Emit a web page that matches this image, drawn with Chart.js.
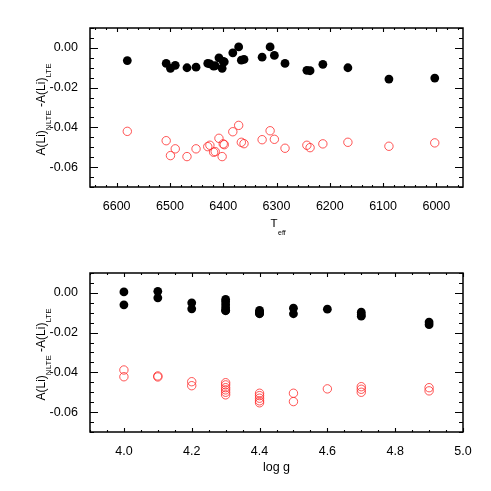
<!DOCTYPE html>
<html>
<head>
<meta charset="utf-8">
<script src="https://cdn.jsdelivr.net/npm/chart.js@4.4.1/dist/chart.umd.min.js"></script>
<style>
  body { margin: 0; background: #fff; }
  .panel { position: absolute; left: 0; width: 491px; height: 245px; }
  canvas { display: block; }
</style>
</head>
<body>
<div class="panel" style="top:0"><canvas id="teffChart" width="491" height="245"></canvas></div>
<div class="panel" style="top:245px"><canvas id="loggChart" width="491" height="245"></canvas></div>
<script>
// top panel: one entry per star
const teff = [6580, 6507, 6499, 6490, 6468, 6451, 6429, 6425, 6418, 6415, 6408, 6402, 6400, 6398,
              6382, 6371, 6366, 6361, 6327, 6312, 6304, 6284, 6243, 6237, 6213, 6166, 6089, 6003];
const teffBlack = [-0.0064, -0.0078, -0.0103, -0.0088, -0.0100, -0.0097, -0.0078, -0.0080, -0.0092, -0.0090,
                   -0.0050, -0.0103, -0.0068, -0.0070, -0.0025, 0.0005, -0.0062, -0.0058, -0.0047, 0.0005,
                   -0.0038, -0.0078, -0.0113, -0.0115, -0.0083, -0.0100, -0.0157, -0.0152];
const teffRed = [-0.0420, -0.0467, -0.0542, -0.0508, -0.0547, -0.0508, -0.0497, -0.0490, -0.0525, -0.0522,
                 -0.0455, -0.0547, -0.0483, -0.0487, -0.0422, -0.0390, -0.0475, -0.0482, -0.0462, -0.0417,
                 -0.0460, -0.0505, -0.0490, -0.0502, -0.0483, -0.0475, -0.0495, -0.0478];

// bottom panel
const logg = [4.0, 4.0, 4.1, 4.1, 4.2, 4.2, 4.3, 4.3, 4.3, 4.3, 4.3, 4.3, 4.4, 4.4, 4.4, 4.4, 4.4,
              4.5, 4.5, 4.6, 4.7, 4.7, 4.7, 4.9, 4.9];
const loggBlack = [0.0005, -0.0060, 0.0008, -0.0025, -0.0050, -0.0080, -0.0033, -0.0045, -0.0060, -0.0075,
                   -0.0090, -0.0088, -0.0088, -0.0105, -0.0095, -0.0100, -0.0103, -0.0077, -0.0105, -0.0082,
                   -0.0097, -0.0117, -0.0110, -0.0147, -0.0160];
const loggRed = [-0.0388, -0.0422, -0.0418, -0.0423, -0.0447, -0.0467, -0.0452, -0.0463, -0.0477, -0.0488,
                 -0.0500, -0.0513, -0.0505, -0.0517, -0.0530, -0.0543, -0.0553, -0.0505, -0.0547, -0.0483,
                 -0.0472, -0.0485, -0.0500, -0.0477, -0.0493];

const yTicks = [0.00, -0.02, -0.04, -0.06];
const teffTicks = [6600, 6500, 6400, 6300, 6200, 6100, 6000];
const loggTicks = [4.0, 4.2, 4.4, 4.6, 4.8, 5.0];

const FONT = '"Liberation Sans", Arial, Helvetica, sans-serif';

// IDL-like frame with inward ticks on all four sides
const frameTicks = {
  id: 'frameTicks',
  afterDraw(chart, args, opts) {
    const { ctx, chartArea: a, scales } = chart;
    const L = Math.round(a.left), T = Math.round(a.top);
    const R = Math.round(a.right), B = Math.round(a.bottom);
    ctx.save();
    ctx.strokeStyle = '#000';
    ctx.lineWidth = 1.5;
    ctx.strokeRect(L, T, R - L, B - T);

    ctx.lineWidth = 1.1;
    ctx.beginPath();
    const xs = scales.x, ys = scales.y;
    let i0 = Math.ceil(xs.min / opts.xMinor - 1e-6);
    for (let i = i0; i * opts.xMinor <= xs.max + 1e-9; i++) {
      const v = i * opts.xMinor;
      const major = Math.abs(v / opts.xMajor - Math.round(v / opts.xMajor)) < 1e-6;
      const len = major ? 4 : 2;
      const px = Math.round(xs.getPixelForValue(v)) + 0.5;
      ctx.moveTo(px, B); ctx.lineTo(px, B - len);
      ctx.moveTo(px, T); ctx.lineTo(px, T + len);
    }
    i0 = Math.ceil(ys.min / opts.yMinor - 1e-6);
    for (let i = i0; i * opts.yMinor <= ys.max + 1e-9; i++) {
      const v = i * opts.yMinor;
      const major = Math.abs(v / opts.yMajor - Math.round(v / opts.yMajor)) < 1e-6;
      const len = major ? 8 : 4;
      const py = Math.round(ys.getPixelForValue(v)) + 0.5;
      ctx.moveTo(L, py); ctx.lineTo(L + len, py);
      ctx.moveTo(R, py); ctx.lineTo(R - len, py);
    }
    ctx.stroke();

    // y title with subscripts, rotated
    ctx.fillStyle = '#000';
    ctx.textBaseline = 'alphabetic';
    ctx.textAlign = 'left';
    const parts = [['A(Li)', 12, 0], ['NLTE', 8, 6], [' -A(Li)', 12, 0], ['LTE', 8, 6]];
    let total = 0;
    parts.forEach(p => { ctx.font = p[1] + 'px ' + FONT; total += ctx.measureText(p[0]).width; });
    ctx.translate(45, (a.top + a.bottom) / 2 + 2);
    ctx.rotate(-Math.PI / 2);
    let x = -total / 2;
    parts.forEach(p => {
      ctx.font = p[1] + 'px ' + FONT;
      ctx.fillText(p[0], x, p[2]);
      x += ctx.measureText(p[0]).width;
    });
    ctx.setTransform(1, 0, 0, 1, 0, 0);

    // x title
    const cx = (a.left + a.right) / 2;
    if (opts.xTitle === 'teff') {
      ctx.font = '11.5px ' + FONT;
      ctx.fillText('T', cx - 6, 227);
      ctx.font = '7px ' + FONT;
      ctx.fillText('eff', cx + 1.5, 235);
    } else {
      ctx.font = '12.5px ' + FONT;
      ctx.textAlign = 'center';
      ctx.fillText('log g', cx, 225.5);
    }
    ctx.restore();
  }
};

function makePanel(id, xs, black, red, xTicks, cfg) {
  return new Chart(document.getElementById(id), {
    type: 'scatter',
    data: {
      datasets: [
        {
          data: xs.map((v, i) => ({ x: v, y: red[i] })),
          backgroundColor: 'rgba(0,0,0,0)',
          borderColor: '#ff2a2a',
          borderWidth: 0.8,
          pointRadius: 4.2
        },
        {
          data: xs.map((v, i) => ({ x: v, y: black[i] })),
          backgroundColor: '#000',
          borderColor: '#000',
          borderWidth: 0,
          pointRadius: 4.4
        }
      ]
    },
    options: {
      responsive: false,
      animation: false,
      layout: { padding: { top: 28, right: 28, left: 0, bottom: 0 } },
      plugins: {
        legend: { display: false },
        tooltip: { enabled: false },
        frameTicks: cfg.frame
      },
      scales: {
        x: {
          type: 'linear',
          min: cfg.xMin,
          max: cfg.xMax,
          reverse: cfg.reverse,
          grid: { display: false },
          border: { display: false },
          afterBuildTicks: s => { s.ticks = xTicks.map(v => ({ value: v })); },
          afterFit: s => { s.height = 58; },
          ticks: {
            padding: 4,
            color: '#000',
            font: { family: FONT, size: 12.5 },
            callback: cfg.fmt
          }
        },
        y: {
          min: -0.07,
          max: 0.01,
          grid: { display: false },
          border: { display: false },
          afterBuildTicks: s => { s.ticks = yTicks.map(v => ({ value: v })); },
          afterFit: s => { s.width = 90; },
          ticks: {
            padding: 4,
            color: '#000',
            font: { family: FONT, size: 12.5 },
            callback: v => v.toFixed(2)
          }
        }
      }
    },
    plugins: [frameTicks]
  });
}

makePanel('teffChart', teff, teffBlack, teffRed, teffTicks, {
  xMin: 5950, xMax: 6650, reverse: true, fmt: v => String(Math.round(v)),
  frame: { xMinor: 20, xMajor: 100, yMinor: 0.005, yMajor: 0.02, xTitle: 'teff' }
});
makePanel('loggChart', logg, loggBlack, loggRed, loggTicks, {
  xMin: 3.9, xMax: 5.0, reverse: false, fmt: v => v.toFixed(1),
  frame: { xMinor: 0.05, xMajor: 0.2, yMinor: 0.005, yMajor: 0.02, xTitle: 'logg' }
});
</script>
</body>
</html>
